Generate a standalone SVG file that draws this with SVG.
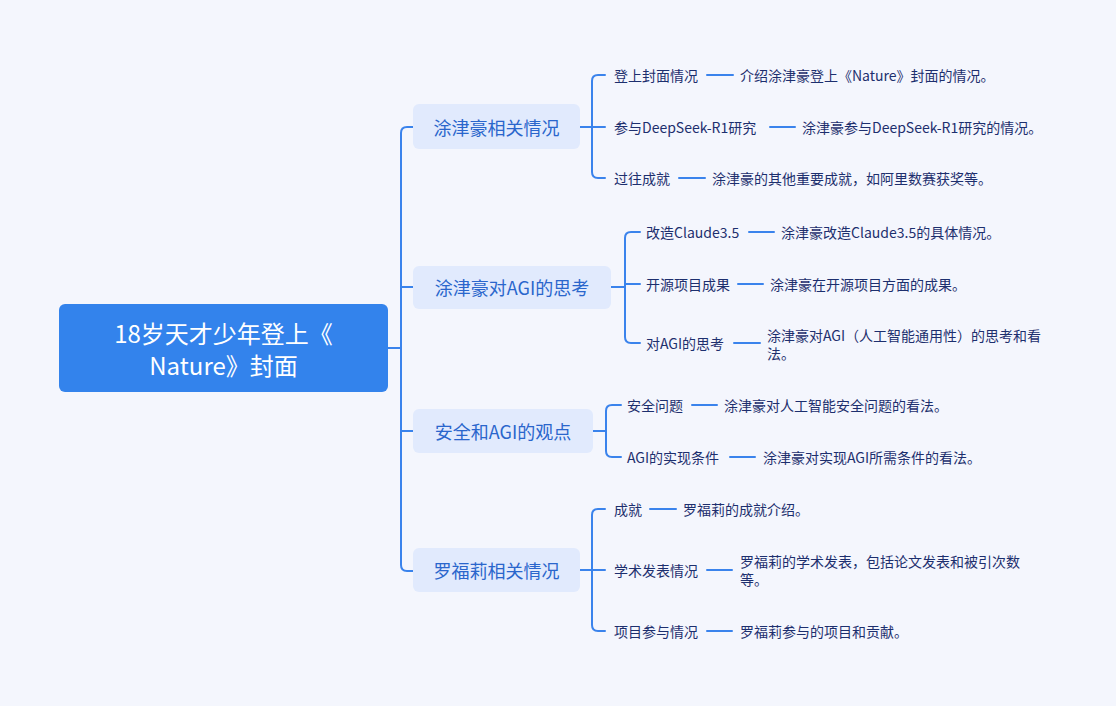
<svg xmlns="http://www.w3.org/2000/svg" width="1116" height="706" viewBox="0 0 1116 706">
<style>
.bg{fill:#f4f6fd}
.conn path{fill:none;stroke:#3a83ec;stroke-width:2;stroke-linecap:round}
.root rect{fill:#3383ec}
.root text{fill:#ffffff;font-size:24px}
.main rect{fill:#e1eafd}
.main text{fill:#2a66cc;font-size:18px}
text{font-family:"Noto Sans CJK SC","Noto Sans",sans-serif;dominant-baseline:central}
.leaf text{fill:#1d2f6e;font-size:14px}
</style>
<rect class="bg" x="0" y="0" width="1116" height="706"/>
<g id="connectors" class="conn">
<path d="M388,348 H401"/>
<path d="M413,127 H407 Q401,127 401,133 V565 Q401,571 407,571 H413"/>
<path d="M401,287 H413"/>
<path d="M401,431 H413"/>
<path d="M580,127 H605"/>
<path d="M605,75 H598 Q592,75 592,81 V172 Q592,178 598,178 H605"/>
<path d="M611,287 H625"/>
<path d="M640,232 H631 Q625,232 625,238 V337 Q625,343 631,343 H640"/>
<path d="M625,284 H640"/>
<path d="M593,431 H606"/>
<path d="M621,405 H612 Q606,405 606,411 V451 Q606,457 612,457 H621"/>
<path d="M580,570 H605"/>
<path d="M605,509 H598 Q592,509 592,515 V625 Q592,631 598,631 H605"/>
<path d="M707,75 H733"/>
<path d="M770,127 H795"/>
<path d="M679,178 H705"/>
<path d="M749,232 H774"/>
<path d="M738,284 H763"/>
<path d="M734,343 H760"/>
<path d="M692,405 H717"/>
<path d="M730,457 H755"/>
<path d="M650,509 H676"/>
<path d="M707,570 H732"/>
<path d="M707,631 H732"/>
</g>
<g id="root" class="root">
<rect x="59" y="304" width="329" height="88" rx="6"/>
<text x="223.5" y="332" text-anchor="middle">18岁天才少年登上《</text>
<text x="223.5" y="364" text-anchor="middle">Nature》封面</text>
</g>
<g id="n1" class="main">
<rect x="413" y="104" width="167" height="45" rx="6"/>
<text x="496.5" y="127" text-anchor="middle">涂津豪相关情况</text>
</g>
<g id="n2" class="main">
<rect x="413" y="266" width="198" height="43" rx="6"/>
<text x="512" y="287" text-anchor="middle">涂津豪对AGI的思考</text>
</g>
<g id="n3" class="main">
<rect x="413" y="409" width="180" height="44" rx="6"/>
<text x="503" y="431" text-anchor="middle">安全和AGI的观点</text>
</g>
<g id="n4" class="main">
<rect x="413" y="548" width="167" height="44" rx="6"/>
<text x="496.5" y="570" text-anchor="middle">罗福莉相关情况</text>
</g>
<g id="l1" class="leaf"><text x="614" y="75">登上封面情况</text><text x="740" y="75">介绍涂津豪登上《Nature》封面的情况。</text></g>
<g id="l2" class="leaf"><text x="614" y="127">参与DeepSeek-R1研究</text><text x="802" y="127">涂津豪参与DeepSeek-R1研究的情况。</text></g>
<g id="l3" class="leaf"><text x="614" y="178">过往成就</text><text x="712" y="178">涂津豪的其他重要成就，如阿里数赛获奖等。</text></g>
<g id="l4" class="leaf"><text x="646" y="232">改造Claude3.5</text><text x="781" y="232">涂津豪改造Claude3.5的具体情况。</text></g>
<g id="l5" class="leaf"><text x="646" y="284">开源项目成果</text><text x="770" y="284">涂津豪在开源项目方面的成果。</text></g>
<g id="l6" class="leaf"><text x="646" y="343">对AGI的思考</text><text x="767" y="335">涂津豪对AGI（人工智能通用性）的思考和看</text><text x="767" y="353">法。</text></g>
<g id="l7" class="leaf"><text x="627" y="405">安全问题</text><text x="724" y="405">涂津豪对人工智能安全问题的看法。</text></g>
<g id="l8" class="leaf"><text x="627" y="457">AGI的实现条件</text><text x="763" y="457">涂津豪对实现AGI所需条件的看法。</text></g>
<g id="l9" class="leaf"><text x="614" y="509">成就</text><text x="683" y="509">罗福莉的成就介绍。</text></g>
<g id="l10" class="leaf"><text x="614" y="570">学术发表情况</text><text x="740" y="561">罗福莉的学术发表，包括论文发表和被引次数</text><text x="740" y="579">等。</text></g>
<g id="l11" class="leaf"><text x="614" y="631">项目参与情况</text><text x="740" y="631">罗福莉参与的项目和贡献。</text></g>
</svg>
